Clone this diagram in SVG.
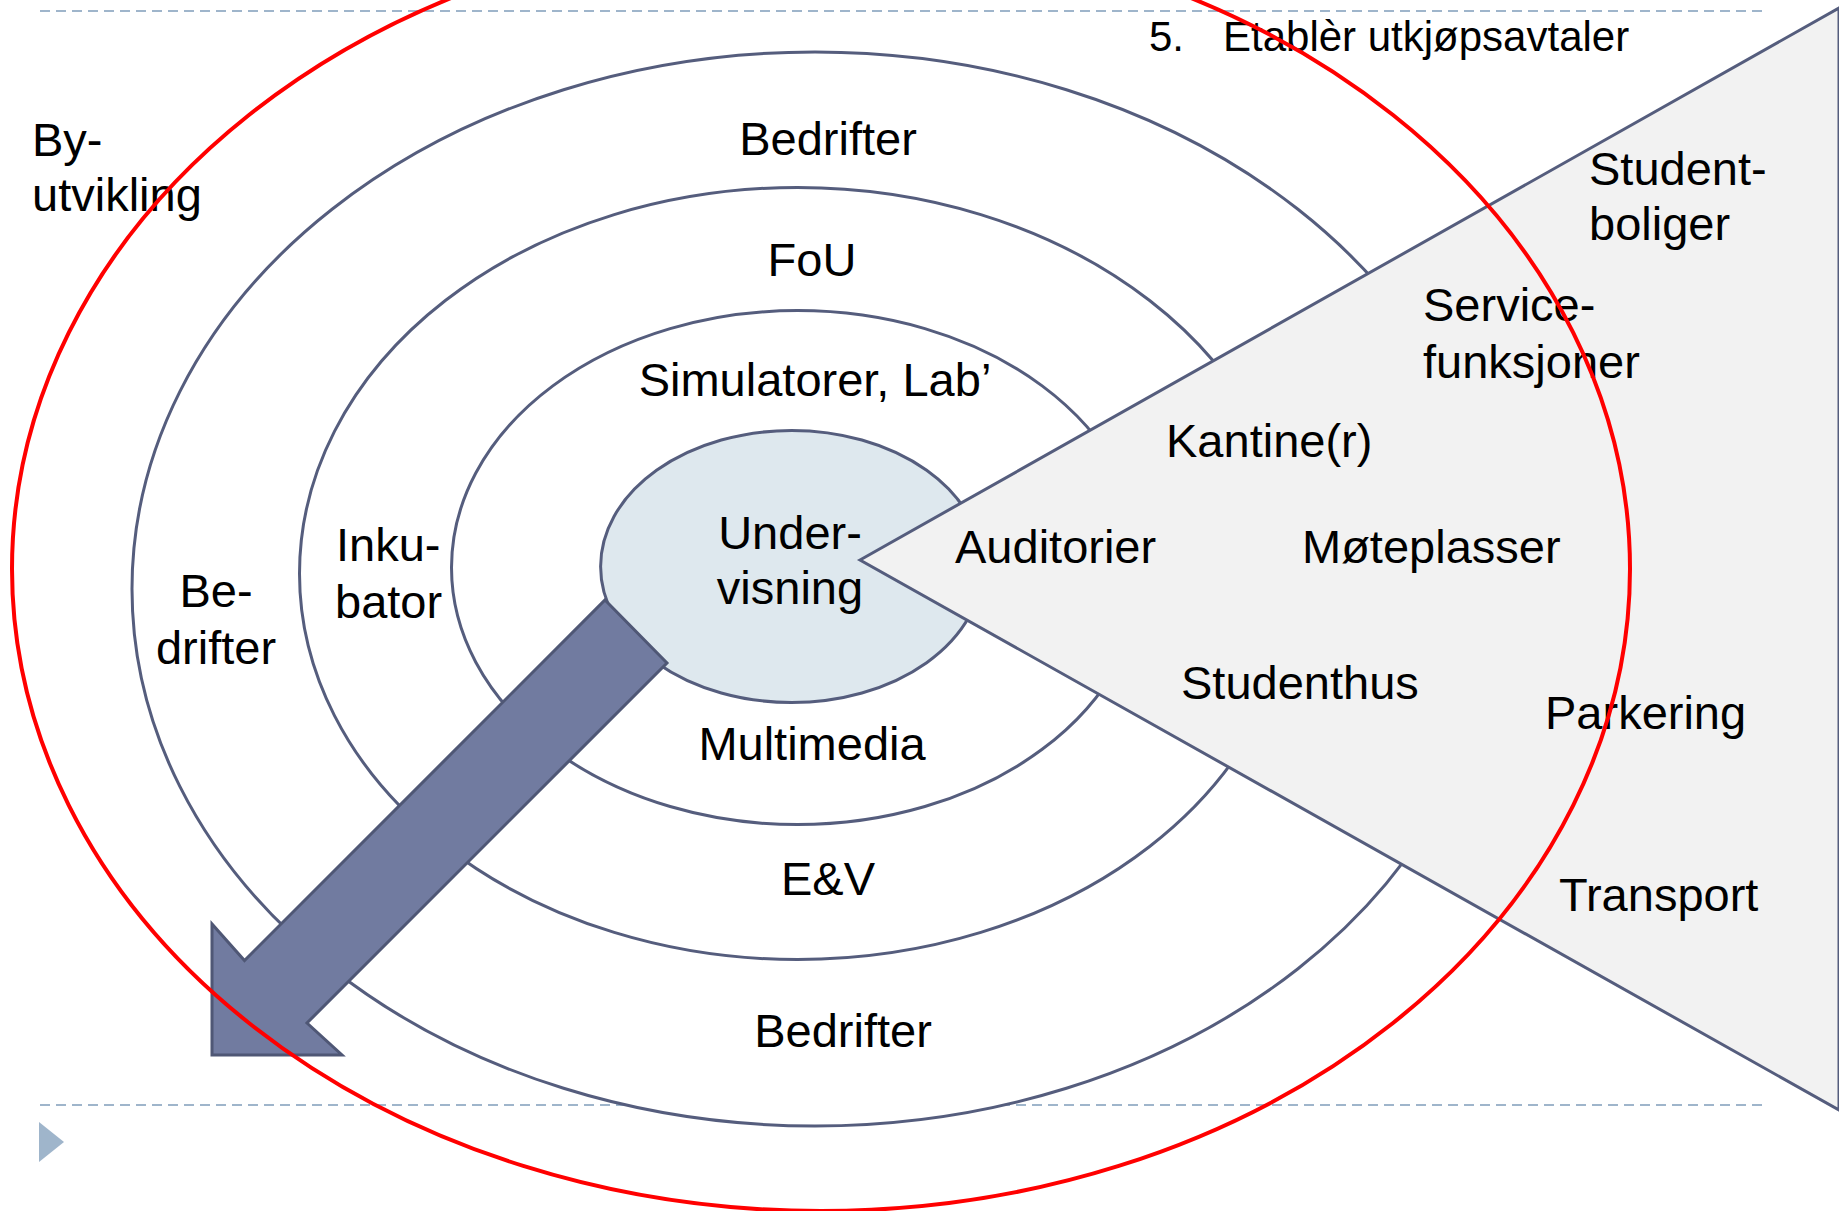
<svg xmlns="http://www.w3.org/2000/svg" width="1839" height="1211" viewBox="0 0 1839 1211">
<style>
.ring{fill:#ffffff;stroke:#555d7d;stroke-width:3}
.core{fill:#dee8ee;stroke:#555d7d;stroke-width:3}
.tri{fill:#f2f2f2;stroke:#555d7d;stroke-width:3;stroke-linejoin:miter}
.arrow{fill:#717ba0;stroke:#4f5775;stroke-width:3;stroke-linejoin:miter}
.red{fill:none;stroke:#ff0000;stroke-width:4}
.dash{stroke:#9fb5cb;stroke-width:2;stroke-dasharray:10 6;fill:none}
text{font-family:"Liberation Sans",Arial,sans-serif;font-size:47px;fill:#000}
.c{text-anchor:middle}
</style>
<rect width="1839" height="1211" fill="#ffffff"/>
<g id="guides">
<line class="dash" x1="40" y1="11" x2="1768" y2="11"/>
<line class="dash" x1="40" y1="1105" x2="1768" y2="1105"/>
<polygon points="39,1122 64,1142 39,1162" fill="#9fb5cb"/>
</g>
<g id="ring-bedrifter">
<ellipse class="ring" cx="815" cy="589" rx="683" ry="537"/>
</g>
<g id="ring-fou">
<ellipse class="ring" cx="797.5" cy="573.5" rx="498" ry="386"/>
</g>
<g id="ring-simulatorer">
<ellipse class="ring" cx="797.5" cy="567.6" rx="346" ry="257"/>
</g>
<g id="node-undervisning">
<ellipse class="core" cx="791.6" cy="566.5" rx="191" ry="136"/>
</g>
<g id="node-service-wedge">
<polygon class="tri" points="860,560 1839,8 1839,1110"/>
</g>
<g id="connectors">
<polygon class="arrow" points="605,600 667,663 307,1023 342,1055 212,1055 212,924 244.5,960.5"/>
</g>
<g id="labels-rings">
<text class="c" x="828" y="155">Bedrifter</text>
<text class="c" x="812" y="276">FoU</text>
<text class="c" x="815" y="396">Simulatorer, Lab’</text>
<text class="c" x="216" y="607">Be-</text>
<text class="c" x="216" y="664">drifter</text>
<text x="336" y="561">Inku-</text>
<text x="335" y="618">bator</text>
<text class="c" x="812" y="760">Multimedia</text>
<text class="c" x="828" y="895">E&amp;V</text>
<text class="c" x="843" y="1047">Bedrifter</text>
</g>
<g id="label-undervisning">
<text class="c" x="790" y="549">Under-</text>
<text class="c" x="790" y="604">visning</text>
</g>
<g id="labels-wedge">
<text x="955" y="563">Auditorier</text>
<text x="1302" y="563">Møteplasser</text>
<text x="1166" y="457">Kantine(r)</text>
<text x="1423" y="321">Service-</text>
<text x="1423" y="378">funksjoner</text>
<text x="1589" y="185">Student-</text>
<text x="1589" y="240">boliger</text>
<text x="1181" y="699">Studenthus</text>
<text x="1545" y="729">Parkering</text>
<text x="1559" y="911">Transport</text>
</g>
<g id="node-byutvikling">
<text x="32" y="156">By-</text>
<text x="32" y="211">utvikling</text>
</g>
<g id="list-item-5">
<text x="1149" y="51" style="font-size:42px">5.</text>
<text x="1223" y="51" style="font-size:42px">Etablèr utkjøpsavtaler</text>
</g>
<g id="ring-byutvikling">
<ellipse class="red" cx="821" cy="569" rx="809" ry="642"/>
</g>
</svg>
